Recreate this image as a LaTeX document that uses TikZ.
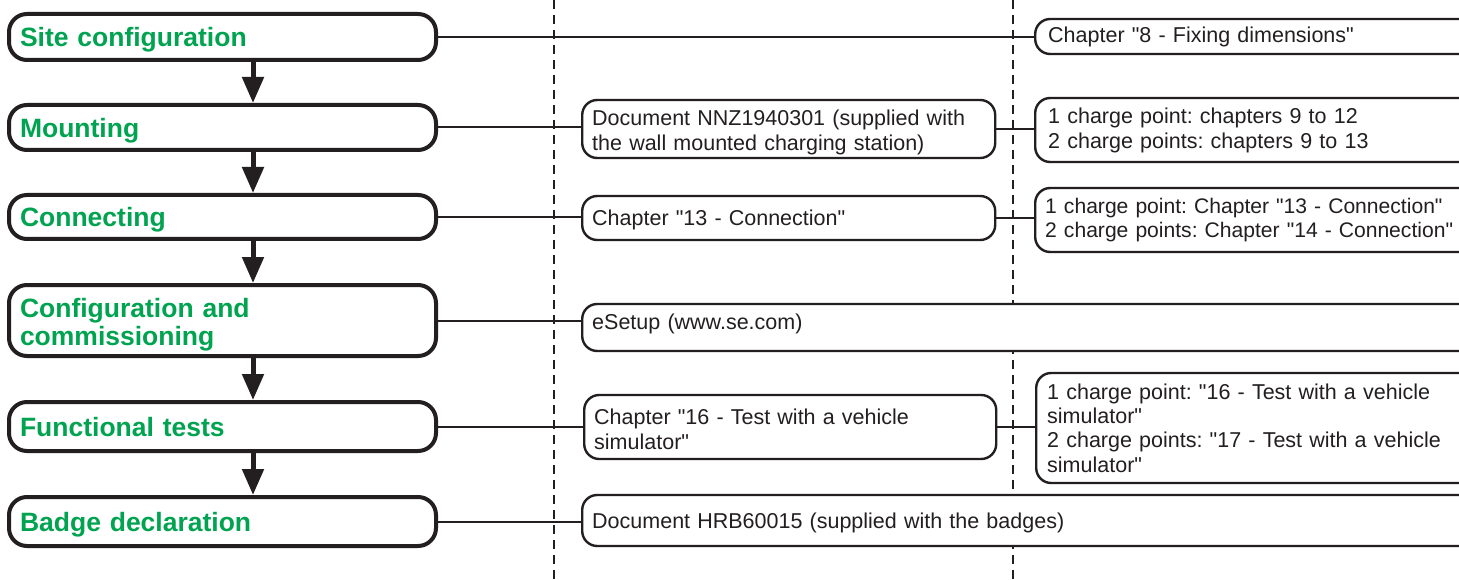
\documentclass[tikz,border=0pt]{standalone}
\usepackage{fontspec}
\setmainfont{Liberation Sans}[Ligatures=TeXOff]
\usetikzlibrary{arrows.meta}
\definecolor{stepgreen}{RGB}{0,163,80}
\definecolor{ink}{RGB}{35,31,32}
\frenchspacing
\tikzset{
  leftbox/.style={draw=ink, line width=4pt, rounded corners=18pt, fill=white,
    anchor=west, align=left, inner xsep=11pt, inner ysep=0pt, text width=405pt,
    text=stepgreen, font=\fontsize{26.5pt}{28pt}\selectfont\bfseries\frenchspacing},
  docbox/.style={draw=ink, line width=2.4pt, rounded corners=15pt, fill=white,
    anchor=west, align=left, inner xsep=10pt, inner ysep=0pt, text=ink,
    font=\fontsize{21.5pt}{25pt}\selectfont\frenchspacing},
  refbox/.style={docbox, inner xsep=13pt, text width=420pt},
  link/.style={draw=ink, line width=2pt},
  flow/.style={draw=ink, line width=5pt, -{Triangle[length=26pt,width=21pt]}},
  sep/.style={draw=ink, line width=2pt, dash pattern=on 9pt off 6pt}
}
\begin{document}
\begin{tikzpicture}[x=1pt,y=-1pt]
\useasboundingbox (0,0) rectangle (1459,580);
\clip (0,0) rectangle (1459,580);
\fill[white] (0,0) rectangle (1459,580);
% separators
\coordinate (s1t) at (554,0); \coordinate (s1b) at (554,580);
\coordinate (s2t) at (1013,0); \coordinate (s2b) at (1013,580);
\coordinate (ax) at (253,0);
\draw[sep] (s1t) -- (s1b);
\draw[sep] (s2t) -- (s2b);
% left steps
\node[leftbox, text depth=0pt, minimum height=46pt] (L1) at (7,37) {Site configuration};
\node[leftbox, text depth=0pt, minimum height=45pt] (L2) at (7,127.5) {Mounting};
\node[leftbox, text depth=0pt, minimum height=44pt] (L3) at (7,217) {Connecting};
\node[leftbox, text depth=25pt, minimum height=71pt] (L4) at (7,320.5) {Configuration and\\commissioning};
\node[leftbox, text depth=0pt, minimum height=49pt] (L5) at (7,426.5) {Functional tests};
\node[leftbox, text depth=0pt, minimum height=49pt] (L6) at (7,521.5) {Badge declaration};
% documents
\node[docbox, text width=393pt, text depth=23pt, minimum height=58pt] (M2) at (581,129) {Document NNZ1940301 (supplied with\\the wall mounted charging station)};
\node[docbox, text width=393pt, text depth=0pt, minimum height=44pt] (M3) at (581,218) {Chapter "13 - Connection"};
\node[docbox, text width=880pt, text depth=12pt, minimum height=47pt] (M4) at (581,327.5) {eSetup (www.se.com)};
\node[docbox, text width=392pt, text depth=20pt, minimum height=64pt] (M5) at (583,427) {Chapter "16 - Test with a vehicle\\simulator"};
\node[docbox, text width=880pt, text depth=0pt, minimum height=51pt] (M6) at (581,520.5) {Document HRB60015 (supplied with the badges)};
% references
\node[refbox, minimum height=35pt] (R1) at (1034,36.5) {Chapter "8 - Fixing dimensions"};
\node[refbox, minimum height=64pt] (R2) at (1034,130) {1 charge point: chapters 9 to 12\\2 charge points: chapters 9 to 13};
\node[refbox, inner xsep=10pt, text width=426pt, minimum height=64pt, font=\fontsize{21.1pt}{24.5pt}\selectfont\frenchspacing] (R3) at (1034,220) {1 charge point: Chapter "13 - Connection"\\2 charge points: Chapter "14 - Connection"};
\node[refbox, inner xsep=11pt, text width=424pt, minimum height=110pt, font=\fontsize{21.5pt}{24.3pt}\selectfont\frenchspacing] (R5) at (1035,428) {1 charge point: "16 - Test with a vehicle\\simulator"\\2 charge points: "17 - Test with a vehicle\\simulator"};
% flow arrows
\draw[flow] (L1.south -| ax) -- (L2.north -| ax);
\draw[flow] (L2.south -| ax) -- (L3.north -| ax);
\draw[flow] (L3.south -| ax) -- (L4.north -| ax);
\draw[flow] (L4.south -| ax) -- (L5.north -| ax);
\draw[flow] (L5.south -| ax) -- (L6.north -| ax);
% links
\draw[link] (L1.east) -- (L1.east -| R1.west);
\draw[link] (L2.east) -- (L2.east -| M2.west);
\draw[link] (M2.east) -- (M2.east -| R2.west);
\draw[link] (L3.east) -- (L3.east -| M3.west);
\draw[link] (M3.east) -- (M3.east -| R3.west);
\draw[link] (L4.east) -- (L4.east -| M4.west);
\draw[link] (L5.east) -- (L5.east -| M5.west);
\draw[link] (M5.east) -- (M5.east -| R5.west);
\draw[link] (L6.east) -- (L6.east -| M6.west);
\end{tikzpicture}
\end{document}
